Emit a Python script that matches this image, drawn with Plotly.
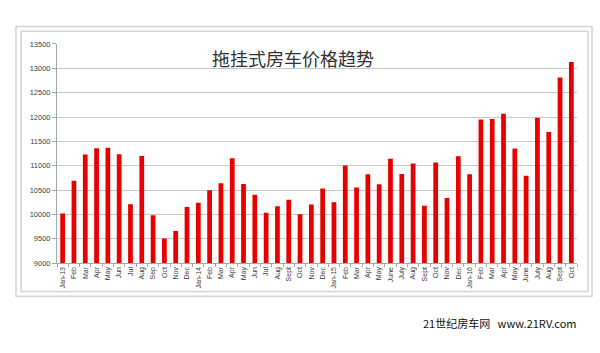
import plotly.graph_objects as go

labels = ["Jan-13", "Feb", "Mar", "Apr", "May", "Jun", "Jul", "Aug", "Sep", "Oct", "Nov", "Dec",
          "Jan-14", "Feb", "Mar", "Apr", "May", "Jun", "Jul", "Aug", "Sept", "Oct", "Nov", "Dec",
          "Jan-15", "Feb", "Mar", "Apr", "May", "June", "July", "Aug", "Sept", "Oct", "Nov", "Dec",
          "Jan-16", "Feb", "Mar", "Apr", "May", "June", "July", "Aug", "Sept", "Oct"]
prices = [10020, 10690, 11230, 11360, 11370, 11235, 10210, 11200, 9985, 9507, 9660, 10153,
          10240, 10500, 10640, 11153, 10627, 10407, 10035, 10167, 10300, 10007, 10205, 10533,
          10253, 11005, 10553, 10825, 10620, 11145, 10833, 11045, 10180, 11067, 10340, 11193,
          10825, 11947, 11960, 12067, 11353, 10793, 11985, 11693, 12813, 13130]
yticks = [9000, 9500, 10000, 10500, 11000, 11500, 12000, 12500, 13000, 13500]
ytick_text = [str(v) for v in yticks]
title_text = "拖挂式房车价格趋势"
watermark = "21世纪房车网   www.21RV.com"

W, H = 600, 353
xs = list(range(len(labels)))

def px(x):
    return x / W

def py(y):
    return 1 - y / H

fig = go.Figure(go.Bar(x=xs, y=prices, marker=dict(color="#e60000", line=dict(width=0)), width=0.42))

fig.update_layout(
    width=W, height=H, margin=dict(l=0, r=0, t=0, b=0),
    paper_bgcolor="white", plot_bgcolor="white", showlegend=False,
    font=dict(family="Liberation Sans, Arial, sans-serif", color="#404040"),
    xaxis=dict(domain=[px(57), px(577)], range=[-0.5, len(labels) - 0.5],
               tickvals=xs, ticktext=labels, tickangle=-90, ticks="", showgrid=False,
               tickfont=dict(size=7, color="#404040"), showline=True, linecolor="#a6a6a6", linewidth=1,
               zeroline=False, fixedrange=True,
               minor=dict(tickvals=[i - 0.5 for i in range(len(labels) + 1)], ticks="outside",
                          ticklen=3, tickcolor="#a6a6a6", showgrid=False)),
    yaxis=dict(domain=[py(266), py(41)], range=[9000, 13500], tickvals=yticks, ticktext=ytick_text,
               ticks="outside", ticklen=4, tickcolor="#a6a6a6", showgrid=True, gridcolor="#c8c8c8",
               gridwidth=1, showline=True, linecolor="#a6a6a6", linewidth=1, zeroline=False,
               tickfont=dict(size=7.5, color="#404040"), fixedrange=True),
    shapes=[
        dict(type="rect", xref="paper", yref="paper", x0=px(16), x1=px(592), y0=py(300), y1=py(23),
             line=dict(color="#d4d4d4", width=1.5), fillcolor="rgba(0,0,0,0)", layer="below"),
        dict(type="rect", xref="paper", yref="paper", x0=px(21), x1=px(588), y0=py(295), y1=py(28),
             line=dict(color="#d4d4d4", width=1.5), fillcolor="rgba(0,0,0,0)", layer="below"),
    ],
    annotations=[
        dict(text=title_text, xref="paper", yref="paper", x=px(293), y=py(55), showarrow=False,
             xanchor="center", yanchor="middle",
             font=dict(family="Noto Sans CJK SC", size=18, color="#333333")),
        dict(text=watermark, xref="paper", yref="paper", x=px(500), y=py(327), showarrow=False,
             xanchor="center", yanchor="middle",
             font=dict(family="Noto Sans CJK SC", size=11, color="#111111")),
    ],
)

fig.write_html("out.html")
